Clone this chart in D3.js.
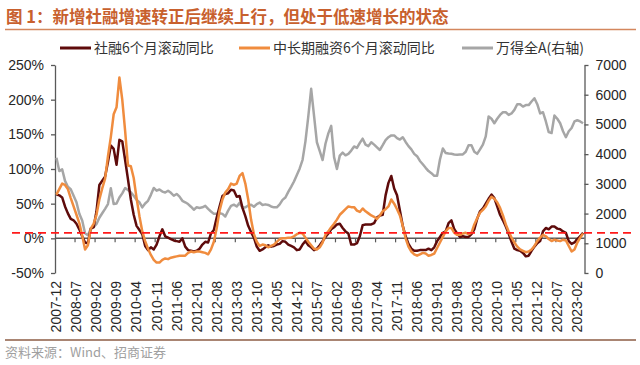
<!DOCTYPE html>
<html><head><meta charset="utf-8">
<script src="https://cdn.jsdelivr.net/npm/d3@7"></script>
<style>
html,body{margin:0;padding:0;background:#fff;}
svg{display:block;font-family:"Liberation Sans","Noto Sans CJK SC",Arial,sans-serif;}
</style></head>
<body><svg id="chart" width="640" height="365"></svg>
<script>
// ---- data (monthly, 2007-12 .. 2023-04) ----
const startMonth = "2007-12";
const tickLabels = ["2007-12","2008-07","2009-02","2009-09","2010-04","2010-11","2011-06","2012-01","2012-08","2013-03","2013-10","2014-05","2014-12","2015-07","2016-02","2016-09","2017-04","2017-11","2018-06","2019-01","2019-08","2020-03","2020-10","2021-05","2021-12","2022-07","2023-02"];
const seriesNames = ["社融6个月滚动同比","中长期融资6个月滚动同比","万得全A(右轴)"];
const tsfRolling = [63,62,59,46,36,28,26,21,13,3,-6,-7,14,16,39,77,83,89,110,134,129,106,142,140,113,85,56,34,18,12,6,-11,-17,-13,-16,-9,3,13,3,1,-1,-3,-4,-5,0,
-12,-17,-18,-19,-18,-15,-9,-5,-6,7,12,30,46,61,64,65,70,69,60,61,44,32,18,9,1,-12,-18,-16,-13,-10,-12,-11,-9,-8,-4,-5,-9,-11,-13,-17,-16,-9,-4,-10,-13,-17,-15,-10,
-4,2,7,13,16,20,21,15,10,7,-9,-9,-7,3,19,20,20,20,22,30,33,34,62,80,90,72,62,40,18,3,-8,-15,-18,-18,-17,-17,-17,-15,-17,-13,-4,2,8,10,22,26,13,
7,2,3,2,2,6,13,28,39,43,50,57,63,58,46,34,26,17,7,-5,-15,-17,-18,-21,-26,-25,-18,-12,-7,-4,10,15,13,17,17,14,13,10,8,-4,-8,-6,-1,3,8];
const mltRolling = [63,71,79,77,71,58,46,34,22,4,-16,-10,14,21,34,56,72,86,118,146,179,189,232,200,155,105,104,87,58,32,10,-4,-15,-24,-31,-35,-35,-31,-29,-30,-28,-27,-26,-25,-25,
-25,-21,-19,-20,-19,-19,-20,-21,-23,-16,-5,15,40,56,66,71,79,77,79,90,94,79,56,27,6,-5,-11,-9,-10,-13,-11,-9,-5,-1,0,0,1,1,3,6,8,7,1,-5,-10,-15,-16,-13,
-6,5,10,16,21,27,34,38,42,46,45,45,40,38,43,39,36,33,31,28,33,39,42,46,56,50,42,33,18,0,-12,-19,-23,-25,-23,-21,-22,-25,-24,-22,-14,-6,2,10,15,15,8,
5,5,7,8,6,8,20,29,37,41,46,54,60,57,52,44,33,20,10,1,-6,-12,-16,-18,-20,-19,-16,-11,-4,1,5,3,-1,-4,-2,-3,-4,-2,-3,-11,-19,-16,-6,1,7];
const windAllA = [3880,3430,3490,3100,2900,2820,2600,2380,1990,1770,1340,1270,1490,1540,1650,1860,2010,2160,2320,2850,2320,2340,2540,2680,2860,2790,2720,2600,2460,2380,2210,2340,2430,2630,2860,2770,2810,2740,2710,2770,2700,2600,2660,2570,2430,
2380,2320,2230,2130,2210,2190,2210,2260,2160,2070,1990,1990,2010,1990,1900,2100,2260,2300,2240,2360,2190,2210,2270,2300,2230,2320,2370,2290,2310,2290,2240,2210,2210,2310,2460,2540,2730,2900,3080,3300,3520,3810,4430,5270,6200,5300,4400,4100,
3800,4350,4700,4950,3900,3500,3950,4050,3960,4010,4120,4260,4210,4380,4520,4320,4270,4400,4320,4230,4140,4300,4470,4570,4630,4630,4540,4490,4570,4410,4270,4160,4010,3930,3770,3660,3540,3430,3360,3270,3270,3820,4190,4040,4020,4010,3990,
3980,3990,3990,4080,4300,4300,4080,4010,4160,4320,4600,5270,5190,5040,5190,5320,5410,5410,5320,5370,5490,5680,5680,5600,5650,5650,5770,5880,5680,5370,5410,5100,4740,4710,5300,5190,5040,4770,4570,4770,4880,5100,5140,5100,5040];
const leftTicks = [-50,0,50,100,150,200,250];
const rightTicks = [0,1000,2000,3000,4000,5000,6000,7000];
const refLine = 8;

// categories
const fmt = d3.timeFormat("%Y-%m");
const t0 = d3.timeParse("%Y-%m")(startMonth);
const months = d3.range(tsfRolling.length).map(i => fmt(d3.timeMonth.offset(t0, i)));

const svg = d3.select("#chart");
const L = 55, R = 584.5, T = 65, B = 273;
const x = d3.scaleBand().domain(months).range([L, R]).padding(0);
const xc = m => x(m) + x.bandwidth()/2;
const y = d3.scaleLinear().domain([-50, 250]).range([B, T]);
const y2 = d3.scaleLinear().domain([0, 7000]).range([B, T]);

// title
svg.append("text").attr("x", 6).attr("y", 23).attr("font-size", 16.5).attr("font-weight", "bold")
  .attr("fill", "#C8602D").attr("font-family", "'Noto Sans CJK SC',sans-serif")
  .text("图 1：新增社融增速转正后继续上行，但处于低速增长的状态");
svg.append("line").attr("x1", 5).attr("x2", 636).attr("y1", 29.5).attr("y2", 29.5)
  .attr("stroke", "#D4875E").attr("stroke-width", 1.5);

// axes
const axColor = "#595959";
const gl = svg.append("g").attr("transform", `translate(${L},0)`)
  .call(d3.axisLeft(y).tickValues(leftTicks).tickFormat(d => d + "%").tickSize(4).tickSizeOuter(0).tickPadding(7));
const gr = svg.append("g").attr("transform", `translate(${R},0)`)
  .call(d3.axisRight(y2).tickValues(rightTicks).tickFormat(d3.format("d")).tickSize(4).tickSizeOuter(0).tickPadding(7));
[gl, gr].forEach(g => {
  g.select(".domain").attr("stroke", axColor).attr("stroke-width", 1.3);
  g.selectAll(".tick line").attr("stroke", axColor).attr("stroke-width", 1.3);
  g.selectAll(".tick text").attr("font-size", 14).attr("fill", "#262626")
    .attr("font-family", "'Liberation Sans',Arial,sans-serif");
});

// zero line with category ticks
svg.append("line").attr("x1", L).attr("x2", R).attr("y1", y(0)).attr("y2", y(0))
  .attr("stroke", axColor).attr("stroke-width", 1.5);
const tickIdx = d3.range(7, months.length, 7);
svg.append("g").selectAll("line").data(tickIdx).join("line")
  .attr("x1", i => x(months[i])).attr("x2", i => x(months[i]))
  .attr("y1", y(0)).attr("y2", y(0) + 4).attr("stroke", axColor).attr("stroke-width", 1.2);

// x labels
svg.append("g").selectAll("text").data(tickLabels).join("text")
  .attr("transform", d => `translate(${xc(d)},281) rotate(-90)`)
  .attr("text-anchor", "end").attr("dy", "0.35em")
  .attr("font-size", 14).attr("fill", "#262626")
  .attr("font-family", "'Liberation Sans',Arial,sans-serif")
  .text(d => d);

// lines
const mk = (arr, sc) => d3.line().x((d, i) => xc(months[i])).y(d => sc(d))(arr);
svg.append("path").attr("d", mk(windAllA, y2)).attr("fill", "none").attr("stroke", "#A6A6A6").attr("stroke-width", 2.5).attr("stroke-linejoin", "round");
svg.append("path").attr("d", mk(tsfRolling, y)).attr("fill", "none").attr("stroke", "#5E0B0B").attr("stroke-width", 2.5).attr("stroke-linejoin", "round");
svg.append("path").attr("d", mk(mltRolling, y)).attr("fill", "none").attr("stroke", "#F08C3E").attr("stroke-width", 2.5).attr("stroke-linejoin", "round");

// reference dashed line
svg.append("line").attr("x1", 12).attr("x2", 634).attr("y1", y(refLine)).attr("y2", y(refLine))
  .attr("stroke", "#FF1A1A").attr("stroke-width", 1.8).attr("stroke-dasharray", "8,5");

// legend
const legColors = ["#5E0B0B", "#F08C3E", "#A6A6A6"];
const legX = [60, 239, 462];
const lg = svg.append("g").selectAll("g").data(seriesNames).join("g")
  .attr("transform", (d, i) => `translate(${legX[i]},48)`);
lg.append("line").attr("x1", 0).attr("x2", 31).attr("stroke", (d, i) => legColors[i]).attr("stroke-width", 3);
lg.append("text").attr("x", 34).attr("dy", "0.36em").attr("font-size", 14).attr("fill", "#333")
  .attr("font-family", "'Noto Sans CJK SC','Liberation Sans',sans-serif").text(d => d);

// footer
svg.append("line").attr("x1", 5).attr("x2", 636).attr("y1", 340).attr("y2", 340)
  .attr("stroke", "#A98573").attr("stroke-width", 1.8);
svg.append("text").attr("x", 5).attr("y", 357).attr("font-size", 13).attr("fill", "#A0A0A0")
  .attr("font-family", "'Noto Sans CJK SC',sans-serif").text("资料来源：Wind、招商证券");
</script></body></html>
